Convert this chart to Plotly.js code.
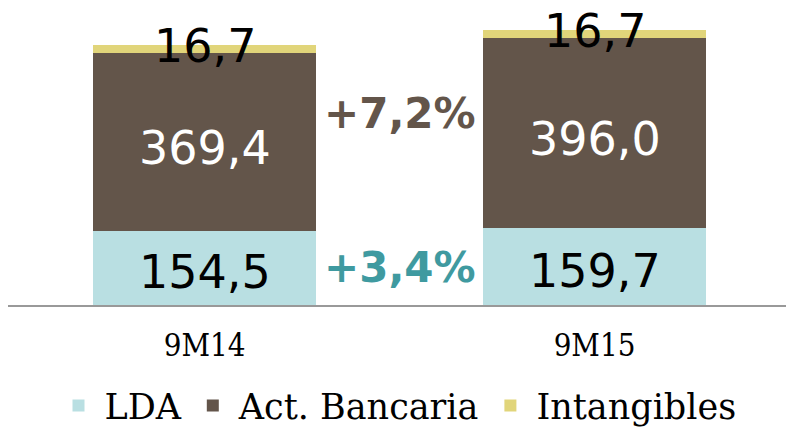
<!DOCTYPE html>
<html><head><meta charset="utf-8">
<script src="https://cdn.plot.ly/plotly-3.0.1.min.js"></script>
<style>html,body{margin:0;padding:0;background:#fff}#c{width:786px;height:430px}</style>
</head><body><div id="c"></div>
<script>
const categories = ["9M14", "9M15"];
const lda = [154.5, 159.7];
const actBancaria = [369.4, 396.0];
const intangibles = [16.7, 16.7];
const growthLabels = ["+7,2%", "+3,4%"];

const fmt = v => v.toFixed(1).replace(".", ",");
const numFamily = "DejaVu Sans";
const numSize = 46;

const traces = [
  {name: "LDA", x: categories, y: lda, type: "bar", marker: {color: "#b9dfe2"}, textposition: "none"},
  {name: "Act. Bancaria", x: categories, y: actBancaria, type: "bar", marker: {color: "#63554a"}, textposition: "none"},
  {name: "Intangibles", x: categories, y: intangibles, type: "bar", marker: {color: "#e1d57a"}, textposition: "none"}
];

const annotations = [];
categories.forEach((c, i) => {
  annotations.push({x: c, y: lda[i] / 2, xref: "x", yref: "y", yshift: -4,
    text: fmt(lda[i]), showarrow: false, font: {family: numFamily, size: numSize, color: "#000"}});
  annotations.push({x: c, y: lda[i] + actBancaria[i] / 2, xref: "x", yref: "y", yshift: -6,
    text: fmt(actBancaria[i]), showarrow: false, font: {family: numFamily, size: numSize, color: "#fff"}});
  annotations.push({x: c, y: lda[i] + actBancaria[i] + intangibles[i] / 2, xref: "x", yref: "y", yshift: 3,
    text: fmt(intangibles[i]), showarrow: false, font: {family: numFamily, size: numSize, color: "#000"}});
});
annotations.push({x: 0.5, y: lda[0] + actBancaria[0] * 0.63, xref: "x", yref: "y", yshift: 5, text: "<b>" + growthLabels[0] + "</b>",
  showarrow: false, font: {family: "DejaVu Sans", size: 42, color: "#63554a"}});
annotations.push({x: 0.5, y: lda[0] * 0.5, xref: "x", yref: "y", text: "<b>" + growthLabels[1] + "</b>",
  showarrow: false, font: {family: "DejaVu Sans", size: 42, color: "#3f9aa0"}});

const layout = {
  width: 786, height: 430,
  margin: {l: 8, r: 0, t: 0, b: 125, autoexpand: false},
  barmode: "stack", bargap: 0.428,
  paper_bgcolor: "#fff", plot_bgcolor: "#fff",
  showlegend: true,
  legend: {orientation: "h", x: 0.5, xanchor: "center", y: -0.33, yanchor: "middle",
    font: {family: "DejaVu Serif", size: 35, color: "#000"}, traceorder: "normal", itemwidth: 42},
  xaxis: {type: "category", range: [-0.504, 1.491], showline: true, linecolor: "#999", linewidth: 2,
    ticks: "", tickfont: {family: "DejaVu Serif Condensed", size: 31, color: "#000"}, ticklabelstandoff: 12},
  yaxis: {range: [0, 634], visible: false, showgrid: false, zeroline: false},
  annotations: annotations
};
Plotly.newPlot("c", traces, layout, {staticPlot: true, displayModeBar: false});
</script></body></html>
